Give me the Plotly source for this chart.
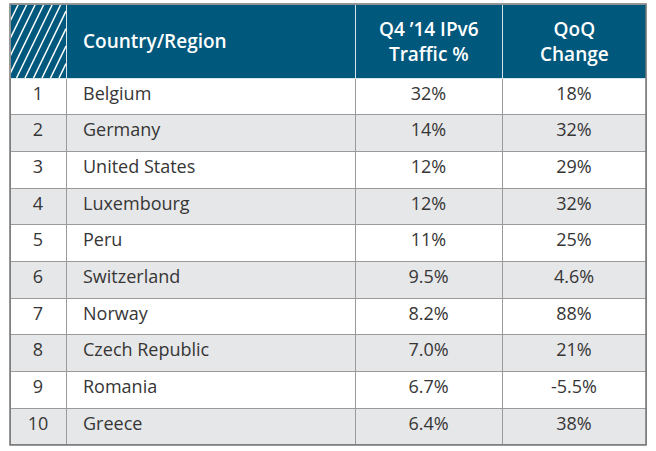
import plotly.graph_objects as go

# table data
ranks = [1, 2, 3, 4, 5, 6, 7, 8, 9, 10]
countries = ["Belgium", "Germany", "United States", "Luxembourg", "Peru",
             "Switzerland", "Norway", "Czech Republic", "Romania", "Greece"]
ipv6_traffic = ["32%", "14%", "12%", "12%", "11%", "9.5%", "8.2%", "7.0%", "6.7%", "6.4%"]
qoq_change = ["18%", "32%", "29%", "32%", "25%", "4.6%", "88%", "21%", "-5.5%", "38%"]
headers = ["", "Country/Region", "Q4 \u201914 IPv6<br>Traffic %", "QoQ<br>Change"]

W, H = 656, 451
left, right, top, bottom = 10, 646, 4, 445
col_w = [56, 289, 147, 144]
header_h = 74
row_h = (bottom - top - header_h) / len(ranks)

blue = "#01587d"
gray = "#e6e7e9"
font = "Open Sans"
row_fill = ["white" if i % 2 == 0 else gray for i in range(len(ranks))]
# a little extra indent for the country column
country_cells = ["\u2002" + c for c in countries]

fig = go.Figure(go.Table(
    domain=dict(x=[left / W, right / W], y=[1 - bottom / H, 1 - top / H]),
    columnwidth=col_w,
    header=dict(
        values=["", "", "", ""],
        fill_color=blue,
        line=dict(color="#d9e4ea", width=1),
        height=header_h,
    ),
    cells=dict(
        values=[ranks, country_cells, ipv6_traffic, qoq_change],
        fill_color=[row_fill] * 4,
        line=dict(color="#9a9a9a", width=1),
        align=["center", "left", "center", "center"],
        font=dict(family=font, size=18, color="#363636"),
        height=row_h,
    ),
))

# header labels, vertically centred in the header band
annotations = []
xpos = left
for i, h in enumerate(headers):
    if h:
        if i == 1:
            ax, anchor = xpos + 15, "left"
        else:
            ax, anchor = xpos + col_w[i] / 2, "center"
        annotations.append(dict(xref="paper", yref="paper", x=ax / W,
                                y=1 - (top + header_h / 2) / H,
                                xanchor=anchor, yanchor="middle", showarrow=False,
                                text=h, align="center",
                                font=dict(family=font, size=19, color="white", weight=600)))
    xpos += col_w[i]

# hatched corner cell
shapes = []
x0, x1, y0, y1 = left, left + col_w[0], top, top + header_h
dx = 36
step = 8.5
s = x0 - dx
while s < x1:
    xa, ya = s, y1
    xb, yb = s + dx, y0
    k = (yb - ya) / (xb - xa)
    if xa < x0:
        ya = ya + k * (x0 - xa)
        xa = x0
    if xb > x1:
        yb = yb - k * (xb - x1)
        xb = x1
    if xb > xa:
        shapes.append(dict(type="line", xref="paper", yref="paper",
                           x0=xa / W, y0=1 - ya / H, x1=xb / W, y1=1 - yb / H,
                           line=dict(color="white", width=1.5)))
    s += step
shapes.append(dict(type="rect", xref="paper", yref="paper",
                   x0=left / W, x1=right / W, y0=1 - bottom / H, y1=1 - top / H,
                   line=dict(color="#777777", width=1.5)))

fig.update_layout(width=W, height=H, margin=dict(l=0, r=0, t=0, b=0),
                  paper_bgcolor="white", shapes=shapes, annotations=annotations)
fig.write_html("out.html", config={"displayModeBar": False},
               post_script="document.body.style.margin='0';")
